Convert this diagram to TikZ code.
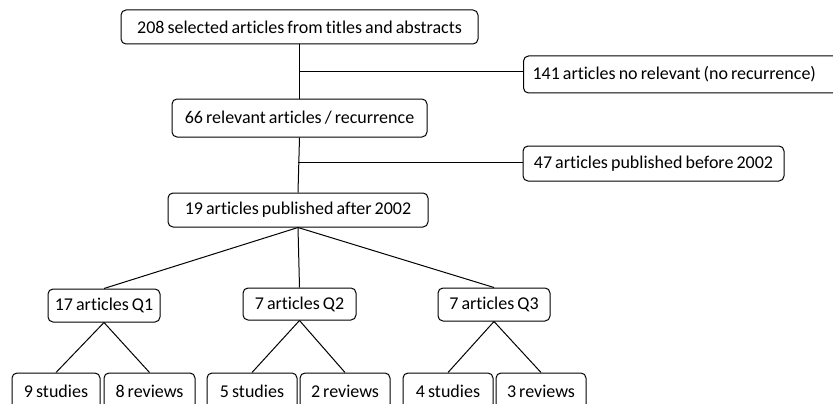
\documentclass[tikz,border=0pt]{standalone}
\usepackage{fontspec}
\setmainfont{Carlito}[Ligatures=NoCommon,WordSpace=0.75]
\begin{document}
\begin{tikzpicture}[x=1pt,y=-1pt,
  box/.style={draw,line width=1pt,rounded corners=5pt,inner sep=0pt,font=\fontsize{18}{21}\selectfont},
  link/.style={line width=1pt}]
\useasboundingbox (0,0) rectangle (833,404);
\clip (0,0) rectangle (833,404);
\node[box,minimum width=357pt,minimum height=34pt] (n208) at (299.5,27) {208 selected articles from titles and abstracts};
\node[box,anchor=west,text width=302pt,align=flush left,inner xsep=9pt,minimum height=37pt] (n141) at (523,74.5) {141 articles no relevant (no recurrence)};
\node[box,minimum width=255pt,minimum height=38pt] (n66) at (299.5,118) {66 relevant articles / recurrence};
\node[box,minimum width=261pt,minimum height=35pt] (n47) at (653.5,163.5) {47 articles published before 2002};
\node[box,minimum width=260pt,minimum height=34pt] (n19) at (298,210) {19 articles published after 2002};
\node[box,minimum width=112pt,minimum height=33pt] (q1) at (104,305.5) {17 articles Q1};
\node[box,minimum width=113pt,minimum height=32pt] (q2) at (299.5,304) {7 articles Q2};
\node[box,minimum width=112pt,minimum height=33pt] (q3) at (494,304.5) {7 articles Q3};
\node[box,minimum width=88pt,minimum height=36pt] (s1) at (56,391) {9 studies};
\node[box,minimum width=91pt,minimum height=36pt] (r1) at (149.5,391) {8 reviews};
\node[box,minimum width=90pt,minimum height=36pt] (s2) at (252,391) {5 studies};
\node[box,minimum width=90pt,minimum height=36pt] (r2) at (345,391) {2 reviews};
\node[box,minimum width=90pt,minimum height=36pt] (s3) at (448,391) {4 studies};
\node[box,minimum width=90pt,minimum height=36pt] (r3) at (541,391) {3 reviews};
\coordinate (b1) at (299,72);
\coordinate (b2) at (298,162);
\draw[link] (n208.south) -- (n66.north);
\draw[link] (b1) -- (b1 -| n141.west);
\draw[link] (n66.south) -- (n19.north);
\draw[link] (b2) -- (b2 -| n47.west);
\draw[link] (n19.south) -- (q1.north);
\draw[link] (n19.south) -- (q2.north);
\draw[link] (n19.south) -- (q3.north);
\draw[link] (q1.south) -- (s1.north);
\draw[link] (q1.south) -- (r1.north);
\draw[link] (q2.south) -- (s2.north);
\draw[link] (q2.south) -- (r2.north);
\draw[link] (q3.south) -- (s3.north);
\draw[link] (q3.south) -- (r3.north);
\end{tikzpicture}
\end{document}
